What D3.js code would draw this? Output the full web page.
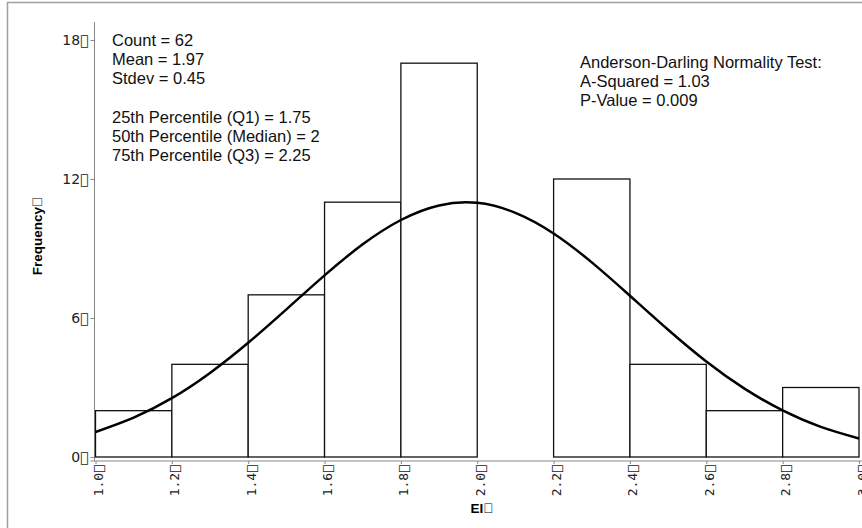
<!DOCTYPE html>
<html>
<head>
<meta charset="utf-8">
<script src="https://cdn.jsdelivr.net/npm/d3@7"></script>
<style>
  body { margin: 0; background: #fff; }
  svg { display: block; }
</style>
</head>
<body>
<div id="chart"></div>
<script>
// Histogram bins (EI) and counts
const binEdges = [1.0, 1.2, 1.4, 1.6, 1.8, 2.0, 2.2, 2.4, 2.6, 2.8, 3.0];
const counts = [2, 4, 7, 11, 17, 0, 12, 4, 2, 3];

// Fitted normal curve
const curveX = [1.0, 1.1, 1.2, 1.3, 1.4, 1.5, 1.6, 1.7, 1.8, 1.9, 2.0,
                2.1, 2.2, 2.3, 2.4, 2.5, 2.6, 2.7, 2.8, 2.9, 3.0];
const curveY = [1.08, 1.70, 2.54, 3.63, 4.93, 6.37, 7.84, 9.18, 10.23, 10.86, 10.97,
                10.54, 9.65, 8.40, 6.96, 5.49, 4.12, 2.95, 2.01, 1.30, 0.80];

// Tick labels
const yTicks = [0, 6, 12, 18];
const xTickLabels = ["1.0", "1.2", "1.4", "1.6", "1.8", "2.0", "2.2", "2.4", "2.6", "2.8", "3.0"];

// Text boxes
const statsLines = ["Count = 62", "Mean = 1.97", "Stdev = 0.45", "",
  "25th Percentile (Q1) = 1.75", "50th Percentile (Median) = 2", "75th Percentile (Q3) = 2.25"];
const testLines = ["Anderson-Darling Normality Test:", "A-Squared = 1.03", "P-Value = 0.009"];

const tofu = "\uE000";

const width = 862;
const height = 528;

const svg = d3.select("#chart")
    .append("svg")
    .attr("width", width)
    .attr("height", height);

// outer frame
svg.append("rect")
    .attr("x", 7.5)
    .attr("y", 2.5)
    .attr("width", 900)
    .attr("height", 600)
    .attr("fill", "white")
    .attr("stroke", "#a0a0a0")
    .attr("stroke-width", 1.5);

const x = d3.scaleLinear().domain([1.0, 3.0]).range([95.5, 859]);
const y = d3.scaleLinear().domain([0, 18]).range([457, 40]);

// Axes (offset from the plot like the original)
const axisX = 94.5;
const axisY = 461;

const yAxis = svg.append("g")
    .attr("transform", `translate(${axisX},0)`)
    .call(d3.axisLeft(y).tickValues(yTicks).tickSize(4).tickPadding(2).tickFormat(d => d + tofu));
yAxis.select(".domain").remove();
yAxis.selectAll("line").attr("stroke", "#888");
yAxis.selectAll("text")
    .style("font-family", "DejaVu Sans, sans-serif")
    .style("font-size", "14px")
    .attr("fill", "#222");

svg.append("line")
    .attr("x1", axisX).attr("x2", axisX)
    .attr("y1", y(18) - 18).attr("y2", axisY)
    .attr("stroke", "#888");

const xAxis = svg.append("g")
    .attr("transform", `translate(0,${axisY})`)
    .call(d3.axisBottom(x).tickValues(binEdges).tickSize(3).tickFormat((d, i) => xTickLabels[i] + tofu));
xAxis.select(".domain").remove();
xAxis.selectAll("line").attr("stroke", "#888");
xAxis.selectAll("text")
    .attr("transform", "rotate(-90)")
    .attr("text-anchor", "end")
    .attr("x", -4)
    .attr("y", 7)
    .attr("dy", 0)
    .style("font-family", "DejaVu Sans Mono, monospace")
    .style("font-size", "13px")
    .attr("fill", "#222");

svg.append("line")
    .attr("x1", axisX - 4).attr("x2", width)
    .attr("y1", axisY).attr("y2", axisY)
    .attr("stroke", "#888");

// Bars
const bins = counts.map((c, i) => ({ x0: binEdges[i], x1: binEdges[i + 1], count: c }))
    .filter(d => d.count > 0);

svg.selectAll("rect.bar")
    .data(bins)
    .enter()
    .append("rect")
    .attr("class", "bar")
    .attr("x", d => x(d.x0))
    .attr("y", d => y(d.count))
    .attr("width", d => x(d.x1) - x(d.x0))
    .attr("height", d => y(0) - y(d.count))
    .attr("fill", "white")
    .attr("stroke", "#111")
    .attr("stroke-width", 1.3);

// Normal curve
const line = d3.line()
    .x(d => x(d[0]))
    .y(d => y(d[1]))
    .curve(d3.curveNatural);

svg.append("path")
    .datum(curveX.map((v, i) => [v, curveY[i]]))
    .attr("d", line)
    .attr("fill", "none")
    .attr("stroke", "#000")
    .attr("stroke-width", 2.5);

// Axis titles
svg.append("text")
    .attr("transform", `translate(42,${236}) rotate(-90)`)
    .attr("text-anchor", "middle")
    .style("font-family", "Liberation Sans, Arial, sans-serif")
    .style("font-weight", "bold")
    .style("font-size", "13.5px")
    .text("Frequency" + tofu);

svg.append("text")
    .attr("x", 482)
    .attr("y", 513)
    .attr("text-anchor", "middle")
    .style("font-family", "Liberation Sans, Arial, sans-serif")
    .style("font-weight", "bold")
    .style("font-size", "13.5px")
    .text("EI" + tofu);

// Stats text
svg.append("g")
    .selectAll("text")
    .data(statsLines)
    .enter()
    .append("text")
    .attr("x", 112)
    .attr("y", (d, i) => 45.7 + i * 19.2)
    .style("font-family", "Liberation Sans, Arial, sans-serif")
    .style("font-size", "16.5px")
    .attr("fill", "#111")
    .text(d => d);

svg.append("g")
    .selectAll("text")
    .data(testLines)
    .enter()
    .append("text")
    .attr("x", 580)
    .attr("y", (d, i) => 67.5 + i * 19)
    .style("font-family", "Liberation Sans, Arial, sans-serif")
    .style("font-size", "16.5px")
    .attr("fill", "#111")
    .text(d => d);
</script>
</body>
</html>
